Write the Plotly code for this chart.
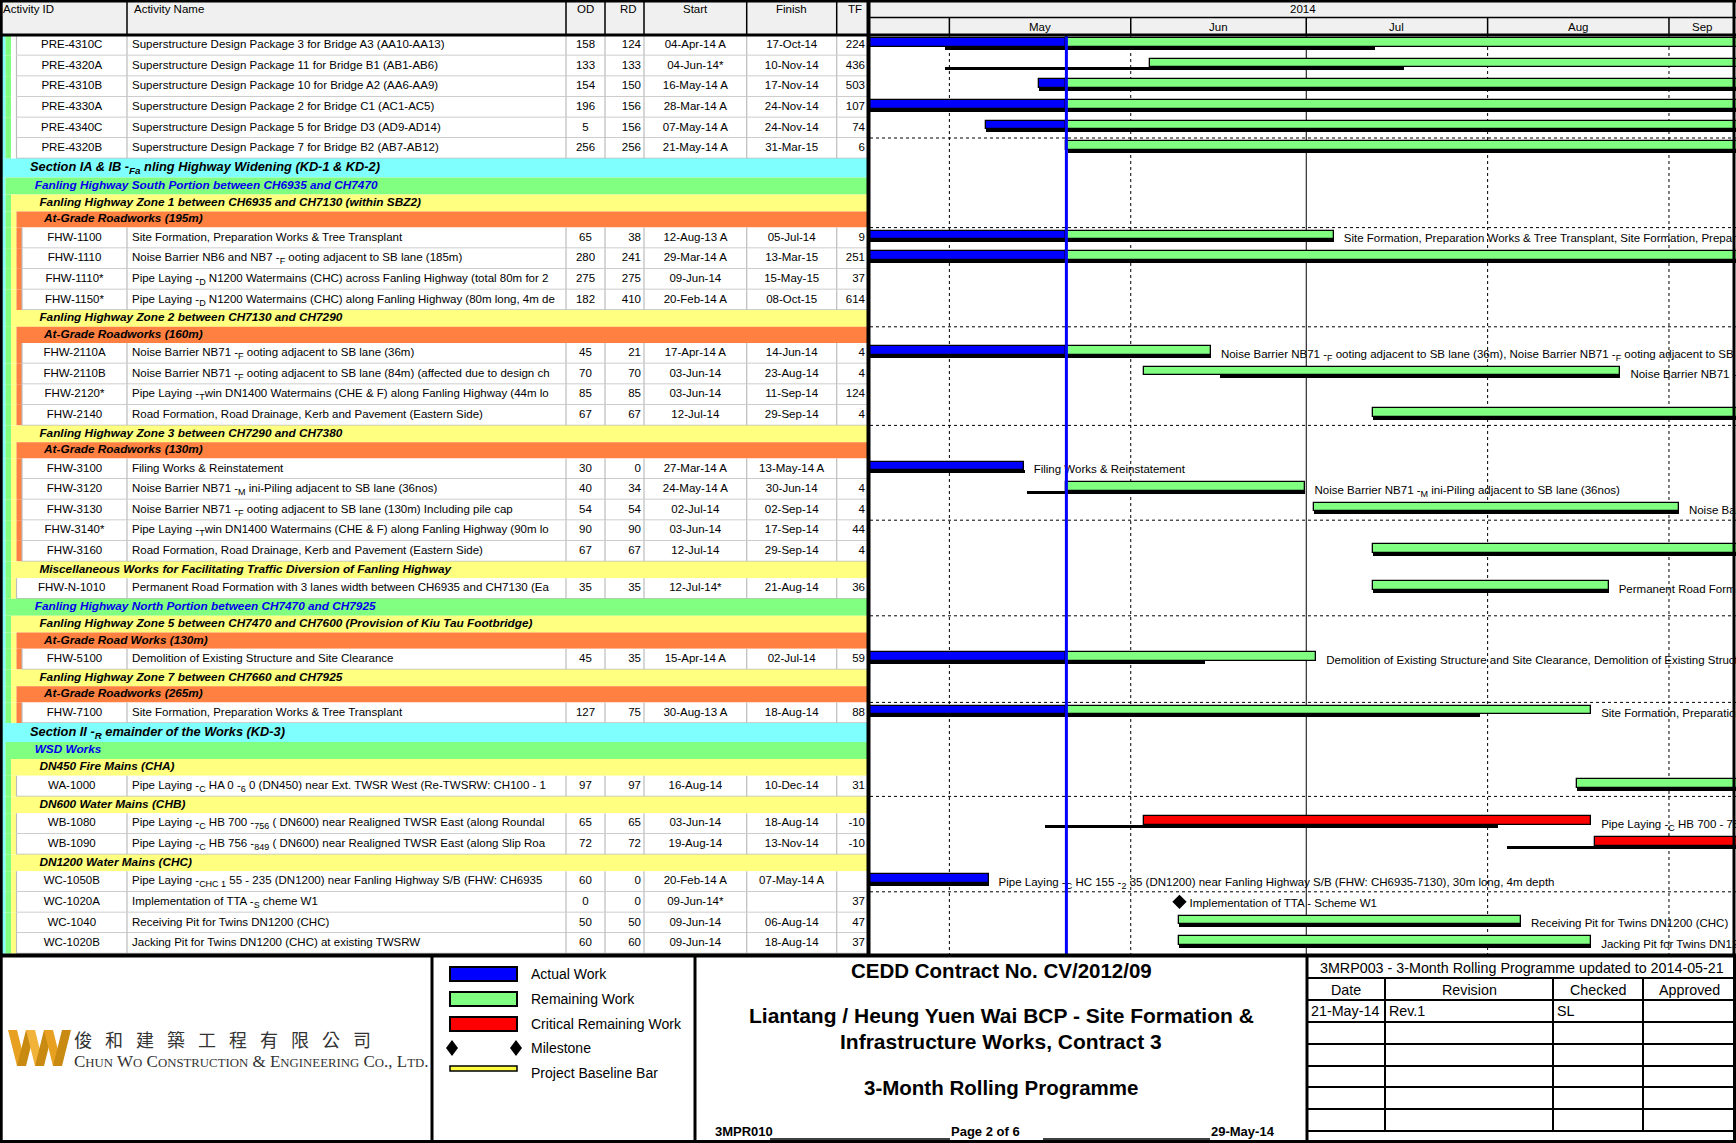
import plotly.graph_objects as go
from datetime import datetime, timedelta

W, H = 1736, 1143

# ------------------------------------------------------------------ DATA
DATA_DATE = "2014-05-21 00:00"
VIEW_START = "2014-04-17 10:20"
VIEW_END = "2014-09-12 11:00"
YEAR_LABEL = "2014"
MONTH_STARTS = ["2014-05-01", "2014-06-01", "2014-07-01", "2014-08-01", "2014-09-01"]
MONTH_LABELS = ["May", "Jun", "Jul", "Aug", "Sep"]

COLUMNS = ["Activity ID", "Activity Name", "OD", "RD", "Start", "Finish", "TF"]

ACT_IDS = ["PRE-4310C", "PRE-4320A", "PRE-4310B", "PRE-4330A", "PRE-4340C", "PRE-4320B",
           "FHW-1100", "FHW-1110", "FHW-1110*", "FHW-1150*",
           "FHW-2110A", "FHW-2110B", "FHW-2120*", "FHW-2140",
           "FHW-3100", "FHW-3120", "FHW-3130", "FHW-3140*", "FHW-3160",
           "FHW-N-1010", "FHW-5100", "FHW-7100",
           "WA-1000", "WB-1080", "WB-1090",
           "WC-1050B", "WC-1020A", "WC-1040", "WC-1020B"]

ACT_NAMES = [
    "Superstructure Design Package 3 for Bridge A3 (AA10-AA13)",
    "Superstructure Design Package 11 for Bridge B1 (AB1-AB6)",
    "Superstructure Design Package 10 for Bridge A2 (AA6-AA9)",
    "Superstructure Design Package 2 for Bridge C1 (AC1-AC5)",
    "Superstructure Design Package 5 for Bridge D3 (AD9-AD14)",
    "Superstructure Design Package 7 for Bridge B2 (AB7-AB12)",
    "Site Formation, Preparation Works & Tree Transplant",
    "Noise Barrier NB6 and NB7 -<sub>F</sub> ooting adjacent to SB lane (185m)",
    "Pipe Laying -<sub>D</sub> N1200 Watermains (CHC) across Fanling Highway (total 80m for 2",
    "Pipe Laying -<sub>D</sub> N1200 Watermains (CHC) along Fanling Highway (80m long, 4m de",
    "Noise Barrier NB71 -<sub>F</sub> ooting adjacent to SB lane (36m)",
    "Noise Barrier NB71 -<sub>F</sub> ooting adjacent to SB lane (84m) (affected due to design ch",
    "Pipe Laying -<sub>T</sub>win DN1400 Watermains (CHE & F) along Fanling Highway (44m lo",
    "Road Formation, Road Drainage, Kerb and Pavement (Eastern Side)",
    "Filing Works & Reinstatement",
    "Noise Barrier NB71 -<sub>M</sub> ini-Piling adjacent to SB lane (36nos)",
    "Noise Barrier NB71 -<sub>F</sub> ooting adjacent to SB lane (130m) Including pile cap",
    "Pipe Laying -<sub>T</sub>win DN1400 Watermains (CHE & F) along Fanling Highway (90m lo",
    "Road Formation, Road Drainage, Kerb and Pavement (Eastern Side)",
    "Permanent Road Formation with 3 lanes width between CH6935 and CH7130 (Ea",
    "Demolition of Existing Structure and Site Clearance",
    "Site Formation, Preparation Works & Tree Transplant",
    "Pipe Laying -<sub>C</sub> HA 0 -<sub>6</sub> 0 (DN450) near Ext. TWSR West (Re-TWSRW: CH100 - 1",
    "Pipe Laying -<sub>C</sub> HB 700 -<sub>756</sub> ( DN600) near Realigned TWSR East (along Roundal",
    "Pipe Laying -<sub>C</sub> HB 756 -<sub>849</sub> ( DN600) near Realigned TWSR East (along Slip Roa",
    "Pipe Laying -<sub>CHC 1</sub> 55 - 235 (DN1200) near Fanling Highway S/B (FHW: CH6935",
    "Implementation of TTA -<sub>S</sub> cheme W1",
    "Receiving Pit for Twins DN1200 (CHC)",
    "Jacking Pit for Twins DN1200 (CHC) at existing TWSRW",
]

ACT_OD = ["158", "133", "154", "196", "5", "256", "65", "280", "275", "182", "45", "70", "85", "67",
          "30", "40", "54", "90", "67", "35", "45", "127", "97", "65", "72", "60", "0", "50", "60"]
ACT_RD = ["124", "133", "150", "156", "156", "256", "38", "241", "275", "410", "21", "70", "85", "67",
          "0", "34", "54", "90", "67", "35", "35", "75", "97", "65", "72", "0", "0", "50", "60"]
ACT_START = ["04-Apr-14 A", "04-Jun-14*", "16-May-14 A", "28-Mar-14 A", "07-May-14 A", "21-May-14 A",
             "12-Aug-13 A", "29-Mar-14 A", "09-Jun-14", "20-Feb-14 A",
             "17-Apr-14 A", "03-Jun-14", "03-Jun-14", "12-Jul-14",
             "27-Mar-14 A", "24-May-14 A", "02-Jul-14", "03-Jun-14", "12-Jul-14",
             "12-Jul-14*", "15-Apr-14 A", "30-Aug-13 A",
             "16-Aug-14", "03-Jun-14", "19-Aug-14",
             "20-Feb-14 A", "09-Jun-14*", "09-Jun-14", "09-Jun-14"]
ACT_FINISH = ["17-Oct-14", "10-Nov-14", "17-Nov-14", "24-Nov-14", "24-Nov-14", "31-Mar-15",
              "05-Jul-14", "13-Mar-15", "15-May-15", "08-Oct-15",
              "14-Jun-14", "23-Aug-14", "11-Sep-14", "29-Sep-14",
              "13-May-14 A", "30-Jun-14", "02-Sep-14", "17-Sep-14", "29-Sep-14",
              "21-Aug-14", "02-Jul-14", "18-Aug-14",
              "10-Dec-14", "18-Aug-14", "13-Nov-14",
              "07-May-14 A", "", "06-Aug-14", "18-Aug-14"]
ACT_TF = ["224", "436", "503", "107", "74", "6", "9", "251", "37", "614", "4", "4", "124", "4",
          "", "4", "4", "44", "4", "36", "59", "88", "31", "-10", "-10", "", "37", "47", "37"]

DD = DATA_DATE
ACTUAL_START = ["2014-04-04 08:00", None, "2014-05-16 08:00", "2014-03-28 08:00", "2014-05-07 08:00", None,
                "2013-08-12 08:00", "2014-03-29 08:00", None, None,
                "2014-04-17 08:00", None, None, None,
                "2014-03-27 08:00", None, None, None, None,
                None, "2014-04-15 08:00", "2013-08-30 08:00",
                None, None, None,
                "2014-02-20 08:00", None, None, None]
ACTUAL_END = [DD, None, DD, DD, DD, None,
              DD, DD, None, None,
              DD, None, None, None,
              "2014-05-13 17:00", None, None, None, None,
              None, DD, DD,
              None, None, None,
              "2014-05-07 17:00", None, None, None]
REMAIN_START = [DD, "2014-06-04 08:00", DD, DD, DD, DD,
                DD, DD, None, None,
                DD, "2014-06-03 08:00", None, "2014-07-12 08:00",
                None, DD, "2014-07-02 08:00", None, "2014-07-12 08:00",
                "2014-07-12 08:00", DD, DD,
                "2014-08-16 08:00", "2014-06-03 08:00", "2014-08-19 08:00",
                None, None, "2014-06-09 08:00", "2014-06-09 08:00"]
REMAIN_END = ["2014-10-17 17:00", "2014-11-10 17:00", "2014-11-17 17:00", "2014-11-24 17:00", "2014-11-24 17:00", "2015-03-31 17:00",
              "2014-07-05 17:00", "2015-03-13 17:00", None, None,
              "2014-06-14 17:00", "2014-08-23 17:00", None, "2014-09-29 17:00",
              None, "2014-06-30 17:00", "2014-09-02 17:00", None, "2014-09-29 17:00",
              "2014-08-21 17:00", "2014-07-02 17:00", "2014-08-18 17:00",
              "2014-12-10 17:00", "2014-08-18 17:00", "2014-11-13 17:00",
              None, None, "2014-08-06 17:00", "2014-08-18 17:00"]
CRITICAL = [False] * 23 + [True, True] + [False] * 4
BASE_START = ["2014-04-30 08:00", "2014-04-30 08:00", "2014-05-16 08:00", "2014-03-28 08:00", "2014-05-07 08:00", "2014-05-21 08:00",
              "2013-08-12 08:00", "2014-03-29 08:00", None, None,
              "2014-04-17 08:00", "2014-06-16 08:00", None, "2014-07-12 08:00",
              "2014-03-27 08:00", "2014-05-14 08:00", "2014-07-02 08:00", None, "2014-07-12 08:00",
              "2014-07-12 08:00", "2014-04-15 08:00", "2013-08-30 08:00",
              "2014-08-16 08:00", "2014-05-17 08:00", "2014-08-04 08:00",
              "2014-02-20 08:00", None, "2014-06-09 08:00", "2014-06-09 08:00"]
BASE_END = ["2014-07-12 17:00", "2014-07-17 17:00", "2014-11-17 17:00", "2014-11-24 17:00", "2014-11-24 17:00", "2015-03-31 17:00",
            "2014-07-05 17:00", "2015-03-13 17:00", None, None,
            "2014-06-14 17:00", "2014-08-23 17:00", None, "2014-09-29 17:00",
            "2014-05-14 00:00", "2014-06-30 17:00", "2014-09-02 17:00", None, "2014-09-29 17:00",
            "2014-08-21 17:00", "2014-06-13 17:00", "2014-07-30 17:00",
            "2014-12-10 17:00", "2014-08-02 17:00", "2014-11-01 17:00",
            "2014-05-07 17:00", None, "2014-08-06 17:00", "2014-08-18 17:00"]
MILESTONE = [None] * 26 + ["2014-06-09 08:00"] + [None] * 2
BAR_LABELS = ["", "", "", "", "", "",
              "Site Formation, Preparation Works & Tree Transplant, Site Formation, Preparation Works & Tree Transplant",
              "", "", "",
              "Noise Barrier NB71 -<sub>F</sub> ooting adjacent to SB lane (36m), Noise Barrier NB71 -<sub>F</sub> ooting adjacent to SB lane (36m)",
              "Noise Barrier NB71 -<sub>F</sub> ooting adjacent to SB lane (84m) (affected due to design change)",
              "", "",
              "Filing Works & Reinstatement",
              "Noise Barrier NB71 -<sub>M</sub> ini-Piling adjacent to SB lane (36nos)",
              "Noise Barrier NB71 -<sub>F</sub> ooting adjacent to SB lane (130m) Including pile cap",
              "", "",
              "Permanent Road Formation with 3 lanes width between CH6935 and CH7130 (Eastern Side)",
              "Demolition of Existing Structure and Site Clearance, Demolition of Existing Structure and Site Clearance",
              "Site Formation, Preparation Works & Tree Transplant, Site Formation, Preparation Works & Tree Transplant",
              "",
              "Pipe Laying -<sub>C</sub> HB 700 - 756 (DN600) near Realigned TWSR East",
              "",
              "Pipe Laying -<sub>C</sub> HC 155 -<sub>2</sub> 35 (DN1200) near Fanling Highway S/B (FHW: CH6935-7130), 30m long, 4m depth",
              "Implementation of TTA - Scheme W1",
              "Receiving Pit for Twins DN1200 (CHC)",
              "Jacking Pit for Twins DN1200 (CHC) at existing TWSRW"]

# outline: ("B", level, band title) or ("A", indent depth)
OUTLINE = (
    [("A", 3)] * 6
    + [("B", 0, "Section IA & IB -<sub>Fa</sub> nling Highway Widening (KD-1 & KD-2)"),
       ("B", 1, "Fanling Highway South Portion between CH6935 and CH7470"),
       ("B", 2, "Fanling Highway Zone 1 between CH6935 and CH7130 (within SBZ2)"),
       ("B", 3, "At-Grade Roadworks (195m)")] + [("A", 4)] * 4
    + [("B", 2, "Fanling Highway Zone 2 between CH7130 and CH7290"),
       ("B", 3, "At-Grade Roadworks (160m)")] + [("A", 4)] * 4
    + [("B", 2, "Fanling Highway Zone 3 between CH7290 and CH7380"),
       ("B", 3, "At-Grade Roadworks (130m)")] + [("A", 4)] * 5
    + [("B", 2, "Miscellaneous Works for Facilitating Traffic Diversion of Fanling Highway")] + [("A", 3)]
    + [("B", 1, "Fanling Highway North Portion between CH7470 and CH7925"),
       ("B", 2, "Fanling Highway Zone 5 between CH7470 and CH7600 (Provision of Kiu Tau Footbridge)"),
       ("B", 3, "At-Grade Road Works (130m)")] + [("A", 4)]
    + [("B", 2, "Fanling Highway Zone 7 between CH7660 and CH7925"),
       ("B", 3, "At-Grade Roadworks (265m)")] + [("A", 4)]
    + [("B", 0, "Section II -<sub>R</sub> emainder of the Works (KD-3)"),
       ("B", 1, "WSD Works"),
       ("B", 2, "DN450 Fire Mains (CHA)")] + [("A", 3)]
    + [("B", 2, "DN600 Water Mains (CHB)")] + [("A", 3)] * 2
    + [("B", 2, "DN1200 Water Mains (CHC)")] + [("A", 3)] * 4
)

LEGEND_ITEMS = ["Actual Work", "Remaining Work", "Critical Remaining Work", "Milestone", "Project Baseline Bar"]
TITLE_LINES = ["CEDD Contract No. CV/2012/09", "Liantang / Heung Yuen Wai BCP - Site Formation &",
               "Infrastructure Works, Contract 3", "3-Month Rolling Programme"]
FOOTER_REFS = ["3MPR010", "Page 2 of 6", "29-May-14"]
REV_TITLE = "3MRP003 - 3-Month Rolling Programme updated to 2014-05-21"
REV_HEAD = ["Date", "Revision", "Checked", "Approved"]
REV_ROWS = [["21-May-14", "Rev.1", "SL", ""]]
COMPANY_CN = "俊和建築工程有限公司"

# ------------------------------------------------------------------ STYLE
ARIAL = "Arial, Liberation Sans, Helvetica, sans-serif"
CYAN, GREEN, YELLOW, ORANGE, WHITE = "#80FFFF", "#80FF80", "#FFFF80", "#FF8040", "#FFFFFF"
LEVEL_COLORS = [CYAN, GREEN, YELLOW, ORANGE]
BAR_BLUE, BAR_GREEN, BAR_RED = "#0000FF", "#80FF80", "#FF0000"
GRID_GRAY = "#BDBDBD"
HEAD_BG = "#F0F0F0"

TABLE_W = 868
GANTT_X0 = 870
HEAD_H = 35
MAIN_BOTTOM = 954
ACT_H = 20.6
BAND_H = {0: 19.0, 1: 17.0, 2: 16.8, 3: 16.2}
U = 5.5
COL_EDGES = [0, 127, 566, 605, 644, 746.7, 836.7, TABLE_W]


def low(s, size):
    """render the dropped (subscript-looking) glyphs of the original print"""
    return (s.replace("<sub>", "<span style='font-size:{}px;baseline-shift:-3px'>".format(size))
             .replace("</sub>", "</span>"))


fig = go.Figure()
shapes, annos = [], []


def drect(xref, x0, x1, y0, y1, fill, lw=0, lc=None, layer="below"):
    shapes.append(dict(type="rect", xref=xref, yref="y", x0=x0, x1=x1, y0=y0, y1=y1,
                       fillcolor=fill, line=dict(width=lw, color=lc or fill), layer=layer))


def dline(xref, x0, x1, y0, y1, lw, color, dash="solid", layer="below"):
    shapes.append(dict(type="line", xref=xref, yref="y", x0=x0, x1=x1, y0=y0, y1=y1,
                       line=dict(width=lw, color=color, dash=dash), layer=layer))


def px(x):
    return x / W


def py(y):
    return 1 - y / H


def pline(x0, y0, x1, y1, lw=1.5, color="black"):
    shapes.append(dict(type="line", xref="paper", yref="paper", x0=px(x0), x1=px(x1), y0=py(y0), y1=py(y1),
                       line=dict(width=lw, color=color), layer="above"))


def prect(x0, y0, x1, y1, fill, lw=0, lc="black"):
    shapes.append(dict(type="rect", xref="paper", yref="paper", x0=px(x0), x1=px(x1), y0=py(y1), y1=py(y0),
                       fillcolor=fill, line=dict(width=lw, color=lc), layer="above"))


def ppath(points, fill):
    d = "M " + " L ".join("{} {}".format(px(a), py(b)) for a, b in points) + " Z"
    shapes.append(dict(type="path", xref="paper", yref="paper", path=d, fillcolor=fill,
                       line=dict(width=0), layer="above"))


def ptext(x, y, text, size, anchor="center", bold=False, family=ARIAL, color="black"):
    annos.append(dict(xref="paper", yref="paper", x=px(x), y=py(y), text=text, showarrow=False,
                      xanchor=anchor, yanchor="middle", borderpad=0,
                      font=dict(size=size, family=family, color=color, weight="bold" if bold else "normal")))


def dt(s):
    return datetime.strptime(s, "%Y-%m-%d %H:%M")


# ------------------------------------------------------------------ TABLE ROWS
row_top, row_h = [], []
act_rows = []
band_rows = []
y = HEAD_H
stack = [CYAN, GREEN, WHITE]
ai = 0
for item in OUTLINE:
    if item[0] == "B":
        lvl, text = item[1], item[2]
        h = BAND_H[lvl]
        for k in range(lvl):
            drect("x", k * U, (k + 1) * U, y, y + h, stack[k] if k < len(stack) else WHITE)
        drect("x", lvl * U, TABLE_W, y, y + h, LEVEL_COLORS[lvl])
        stack = stack[:lvl] + [LEVEL_COLORS[lvl]]
        band_rows.append((lvl, y, h, text))
    else:
        depth = item[1]
        h = ACT_H
        for k in range(depth):
            drect("x", k * U, (k + 1) * U, y, y + h, stack[k] if k < len(stack) else WHITE)
        drect("x", depth * U, TABLE_W, y, y + h, WHITE)
        dline("x", depth * U, TABLE_W, y + h, y + h, 1.5, GRID_GRAY)
        for cx in [depth * U] + COL_EDGES[1:-1]:
            dline("x", cx, cx, y, y + h, 1.2, GRID_GRAY)
        act_rows.append((ai, y, h, depth))
        ai += 1
    row_top.append(y)
    row_h.append(h)
    y += h

# table texts
id_x, id_y = [], []
for (i, t, h, depth) in act_rows:
    id_x.append((depth * U + COL_EDGES[1]) / 2)
    id_y.append(t + h / 2)
tf = dict(family=ARIAL, size=11.5, color="black")


def table_text(xs, texts, pos):
    keep = [k for k, t in enumerate(texts) if t]
    fig.add_trace(go.Scatter(x=[xs[k] for k in keep], y=[id_y[k] for k in keep],
                             text=[low(texts[k], 9) for k in keep], mode="text", textposition=pos, textfont=tf,
                             xaxis="x", yaxis="y", hoverinfo="skip", showlegend=False, cliponaxis=False))


n = len(id_y)
table_text(id_x, ACT_IDS, "middle center")
table_text([COL_EDGES[1] + 5] * n, ACT_NAMES, "middle right")
table_text([(COL_EDGES[2] + COL_EDGES[3]) / 2] * n, ACT_OD, "middle center")
table_text([COL_EDGES[4] - 3] * n, ACT_RD, "middle left")
table_text([(COL_EDGES[4] + COL_EDGES[5]) / 2] * n, ACT_START, "middle center")
table_text([(COL_EDGES[5] + COL_EDGES[6]) / 2] * n, ACT_FINISH, "middle center")
table_text([COL_EDGES[7] - 3] * n, ACT_TF, "middle left")

# band texts, one trace per level
for lvl in range(4):
    rows = [b for b in band_rows if b[0] == lvl]
    size = 12.8 if lvl == 0 else 11.8
    fig.add_trace(go.Scatter(
        x=[30 + lvl * 4.7] * len(rows), y=[b[1] + b[2] / 2 for b in rows], text=[low(b[3], size - 3) for b in rows],
        mode="text", textposition="middle right", cliponaxis=False,
        textfont=dict(family=ARIAL, size=size, color="#0000EE" if lvl == 1 else "black",
                      weight="bold", style="italic"),
        xaxis="x", yaxis="y", hoverinfo="skip", showlegend=False))

# table header
drect("x", 0, TABLE_W, 0, HEAD_H, HEAD_BG)
for cx in COL_EDGES[1:-1]:
    dline("x", cx, cx, 0, HEAD_H, 1.5, "black", layer="above")
head_pos = [(1, "left"), (COL_EDGES[1] + 5, "left"), ((COL_EDGES[2] + COL_EDGES[3]) / 2, "center"),
            (COL_EDGES[4] - 5, "right"), ((COL_EDGES[4] + COL_EDGES[5]) / 2, "center"),
            ((COL_EDGES[5] + COL_EDGES[6]) / 2, "center"), (COL_EDGES[7] - 4, "right")]
for (hx, anc), name in zip(head_pos, COLUMNS):
    annos.append(dict(xref="x", yref="y", x=hx, y=8.5, text=name, showarrow=False, xanchor=anc,
                      yanchor="middle", font=dict(family=ARIAL, size=11.5, color="black")))

# ------------------------------------------------------------------ GANTT
v0, v1 = dt(VIEW_START), dt(VIEW_END)
drect("x2", VIEW_START, VIEW_END, 0, HEAD_H, HEAD_BG)
dline("x2", VIEW_START, VIEW_END, HEAD_H / 2, HEAD_H / 2, 1.5, "black", layer="above")
mid = v0 + (v1 - v0) / 2
annos.append(dict(xref="x2", yref="y", x=mid.strftime("%Y-%m-%d %H:%M"), y=8.5, text=YEAR_LABEL, showarrow=False,
                  font=dict(family=ARIAL, size=11.5, color="black")))
for i, ms in enumerate(MONTH_STARTS):
    m0 = datetime.strptime(ms, "%Y-%m-%d")
    m1 = (m0 + timedelta(days=32)).replace(day=1)
    a, b = max(m0, v0), min(m1, v1)
    c = a + (b - a) / 2
    annos.append(dict(xref="x2", yref="y", x=c.strftime("%Y-%m-%d %H:%M"), y=26.5, text=MONTH_LABELS[i],
                      showarrow=False, font=dict(family=ARIAL, size=11.5, color="black")))
    dline("x2", ms, ms, HEAD_H / 2, HEAD_H, 1.5, "black", layer="above")
    solid = m0.month in (1, 4, 7, 10)
    dline("x2", ms, ms, HEAD_H, MAIN_BOTTOM, 1, "black", dash="solid" if solid else "3px,3px")

# sight lines every 5 rows
for i in range(len(row_top)):
    if (i + 1) % 5 == 0:
        yy = row_top[i] + row_h[i]
        dline("x2", VIEW_START, VIEW_END, yy, yy, 1, "black", dash="3px,3px")

act_top = [t for (_, t, _, _) in act_rows]


def add_bars(starts, ends, color, off, width, lw, mask=None):
    xs, bases, ys = [], [], []
    for i, (s, e) in enumerate(zip(starts, ends)):
        if s is None or e is None:
            continue
        if mask is not None and not mask[i]:
            continue
        xs.append((dt(e) - dt(s)).total_seconds() * 1000)
        bases.append(s)
        ys.append(act_top[i] + off)
    fig.add_trace(go.Bar(orientation="h", x=xs, base=bases, y=ys, width=width,
                         marker=dict(color=color, line=dict(color="black", width=lw)),
                         xaxis="x2", yaxis="y", hoverinfo="skip", showlegend=False))


add_bars(BASE_START, BASE_END, "black", 13.2, 3.0, 0)
add_bars(ACTUAL_START, ACTUAL_END, BAR_BLUE, 7.5, 8.5, 1.3)
add_bars(REMAIN_START, REMAIN_END, BAR_GREEN, 7.5, 8.5, 1.3, mask=[not c for c in CRITICAL])
add_bars(REMAIN_START, REMAIN_END, BAR_RED, 7.5, 8.5, 1.3, mask=CRITICAL)

mx = [m for m in MILESTONE if m]
my = [act_top[i] + 10 for i, m in enumerate(MILESTONE) if m]
fig.add_trace(go.Scatter(x=mx, y=my, mode="markers", marker=dict(symbol="diamond", size=11, color="black"),
                         xaxis="x2", yaxis="y", hoverinfo="skip", showlegend=False))

lx, ly, lt = [], [], []
for i, lab in enumerate(BAR_LABELS):
    if not lab:
        continue
    ends = [dt(e) for e in (ACTUAL_END[i], REMAIN_END[i], MILESTONE[i]) if e]
    end = max(ends)
    lx.append((end + timedelta(days=1.7)).strftime("%Y-%m-%d %H:%M"))
    ly.append(act_top[i] + 12)
    lt.append(low(lab, 9))
fig.add_trace(go.Scatter(x=lx, y=ly, text=lt, mode="text", textposition="middle right", cliponaxis=True,
                         textfont=dict(family=ARIAL, size=11.5, color="black"),
                         xaxis="x2", yaxis="y", hoverinfo="skip", showlegend=False))

# data date line
dline("x2", DATA_DATE, DATA_DATE, HEAD_H, MAIN_BOTTOM, 3, "#0000FF", layer="above")

# ------------------------------------------------------------------ FRAME
pline(0, 1, W, 1, 3)
pline(1.2, 0, 1.2, MAIN_BOTTOM, 3)
pline(W - 2, 0, W - 2, MAIN_BOTTOM, 3)
pline(868.5, 0, 868.5, MAIN_BOTTOM, 4)
pline(0, HEAD_H, W, HEAD_H, 3)
pline(0, 955.5, W, 955.5, 4)

# ------------------------------------------------------------------ FOOTER
pline(1.2, 955, 1.2, H, 3)
pline(W - 1.5, 955, W - 1.5, H, 3)
pline(0, H - 1.5, W, H - 1.5, 3)
pline(432, 955, 432, H, 3)
pline(695, 955, 695, H, 3)
pline(1307, 955, 1307, H, 3)

# logo (stylised stripes)
stripe_cols = ["#E8A020", "#C98A12", "#F2B33A", "#C98A12", "#E8A020", "#C98A12"]
for k, col in enumerate(stripe_cols):
    x0 = 8 + k * 9
    if k % 2 == 0:
        ppath([(x0, 1030), (x0 + 9, 1030), (x0 + 18, 1066), (x0 + 9, 1066)], col)
    else:
        ppath([(x0 + 9, 1030), (x0 + 18, 1030), (x0 + 9, 1066), (x0, 1066)], col)
for k, ch in enumerate(COMPANY_CN):
    ptext(83 + k * 31.0, 1039, ch, 18, family="Noto Sans CJK TC", color="#333333")
sc = "font-size:12.8px"
en = ("C<span style='{0}'>HUN</span> W<span style='{0}'>O</span> C<span style='{0}'>ONSTRUCTION</span> & "
      "E<span style='{0}'>NGINEERING</span> C<span style='{0}'>O</span>., L<span style='{0}'>TD</span>.").format(sc)
ptext(73, 1061, en, 17, anchor="left", family="Liberation Serif, Times New Roman, serif", color="#333333")

# legend box
leg_y = [974, 999, 1024, 1048, 1073]
prect(450, 967, 517, 981, BAR_BLUE, 2)
prect(450, 992, 517, 1006, BAR_GREEN, 2)
prect(450, 1017, 517, 1031, BAR_RED, 2)
for cx in (452, 516):
    ppath([(cx, 1040), (cx + 6, 1048), (cx, 1056), (cx - 6, 1048)], "black")
prect(450, 1066, 517, 1071, "#FFFF40", 1.5)
for t, yy in zip(LEGEND_ITEMS, leg_y):
    ptext(530, yy, t, 14, anchor="left")

# title box
for t, yy, sz in zip(TITLE_LINES, [970, 1015, 1041, 1087], [20.5, 21, 21, 20.5]):
    ptext(1001, yy, t, sz, bold=True)
ptext(714, 1131, FOOTER_REFS[0], 13, anchor="left", bold=True)
ptext(950, 1131, FOOTER_REFS[1], 13, anchor="left", bold=True)
ptext(1210, 1131, FOOTER_REFS[2], 13, anchor="left", bold=True)
pline(770, 1139, 950, 1139, 1.5)
pline(1043, 1139, 1210, 1139, 1.5)

# revision table
rev_h = [978, 1000, 1022, 1044, 1066, 1087, 1109, 1131]
for yy in rev_h:
    pline(1307, yy, W, yy, 2)
rev_cols = [1307, 1385, 1553, 1643, W]
for cx in rev_cols[1:-1]:
    pline(cx, 978, cx, 1131, 2)
ptext((1307 + W) / 2, 968, REV_TITLE, 14.3)
for k, t in enumerate(REV_HEAD):
    ptext((rev_cols[k] + rev_cols[k + 1]) / 2, 990, t, 14.3)
for r, row in enumerate(REV_ROWS):
    for k, t in enumerate(row):
        if t:
            ptext(rev_cols[k] + 3, 1011 + r * 22, t, 14.3, anchor="left")

# ------------------------------------------------------------------ LAYOUT
fig.update_layout(
    width=W, height=H, margin=dict(l=0, r=0, t=0, b=0),
    paper_bgcolor="white", plot_bgcolor="white", barmode="overlay", bargap=0,
    showlegend=False,
    xaxis=dict(domain=[0, GANTT_X0 / W], range=[0, GANTT_X0], visible=False, fixedrange=True),
    xaxis2=dict(domain=[GANTT_X0 / W, 1], range=[VIEW_START, VIEW_END], type="date", visible=False,
                anchor="y", fixedrange=True),
    yaxis=dict(domain=[1 - MAIN_BOTTOM / H, 1], range=[MAIN_BOTTOM, 0], visible=False, fixedrange=True),
    shapes=shapes, annotations=annos,
)

fig.write_html("out.html", config={"displayModeBar": False},
               post_script="document.body.style.margin='0';document.body.style.overflow='hidden';")
